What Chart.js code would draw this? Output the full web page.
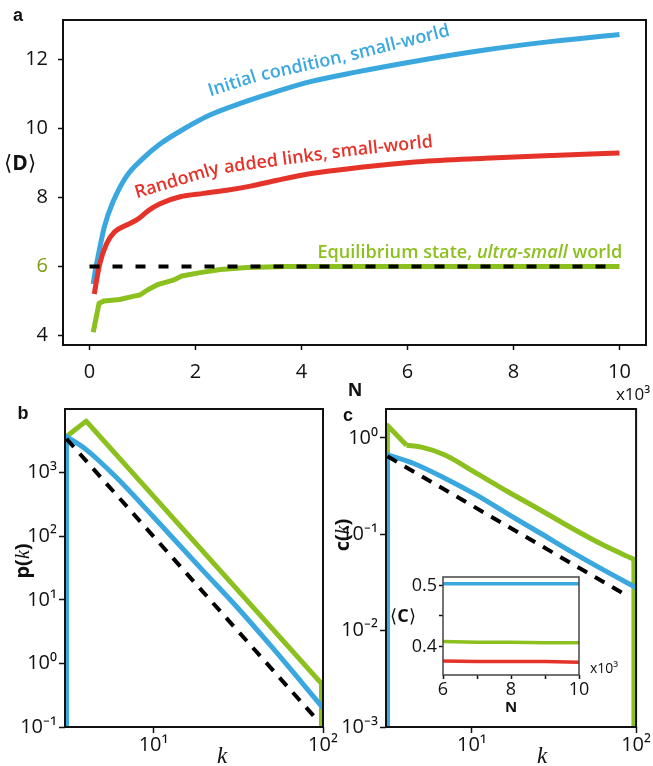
<!DOCTYPE html>
<html>
<head>
<meta charset="utf-8">
<script src="https://cdn.jsdelivr.net/npm/chart.js@4.4.1/dist/chart.umd.min.js"></script>
<style>
body { margin: 0; background: #fff; }
#fig { position: relative; width: 653px; height: 766px; overflow: hidden; font-family: 'Open Sans', sans-serif; color: #111; }
canvas { position: absolute; }
.lbl { position: absolute; white-space: nowrap; line-height: 1; transform: translate(-50%, -50%); }
.rot { transform: translate(-50%, -50%) rotate(-90deg); }
.panel { font-family: 'Liberation Sans', Arial, sans-serif; font-weight: bold; font-size: 18px; }
.kit { font-family: 'Liberation Serif', serif; font-style: italic; font-weight: normal; }
.br { font-family: 'DejaVu Sans', sans-serif; font-weight: 200; }
</style>
</head>
<body>
<div id="fig">
  <canvas id="chartA" width="653" height="380" style="left:0;top:0;width:653px;height:380px"></canvas>
  <canvas id="chartB" width="345" height="376" style="left:0;top:390px;width:345px;height:376px"></canvas>
  <canvas id="chartC" width="323" height="376" style="left:330px;top:390px;width:323px;height:376px"></canvas>
  <canvas id="chartInset" width="200" height="140" style="left:395px;top:560px;width:200px;height:140px"></canvas>

  <div class="lbl panel" style="left:18px;top:15px">a</div>
  <div class="lbl panel" style="left:23px;top:413px">b</div>
  <div class="lbl panel" style="left:348px;top:415px">c</div>

  <div class="lbl" style="left:20px;top:163px;font-size:21px"><span class="br">⟨</span><b>D</b><span class="br">⟩</span></div>
  <div class="lbl" style="left:355px;top:389px;font-size:18px;font-weight:bold">N</div>
  <div class="lbl" style="left:633px;top:393px;font-size:17px">x10³</div>

  <div class="lbl rot" style="left:22px;top:561px;font-size:20px"><b>p(</b><span class="kit">k</span><b>)</b></div>
  <div class="lbl kit" style="left:222px;top:755px;font-size:23px">k</div>

  <div class="lbl rot" style="left:342px;top:535px;font-size:20px"><b>c(</b><span class="kit">k</span><b>)</b></div>
  <div class="lbl kit" style="left:542px;top:755px;font-size:23px">k</div>

  <div class="lbl" style="left:403px;top:615px;font-size:18px"><span class="br">⟨</span><b>C</b><span class="br">⟩</span></div>
  <div class="lbl" style="left:604px;top:668px;font-size:14px">x10³</div>
  <div class="lbl" style="left:511px;top:706px;font-size:15px;font-weight:bold">N</div>
</div>

<script>
// Colours
const BLUE = '#3aa8df';
const RED = '#e5332a';
const GREEN = '#8cc01e';

// ---------------------------------------------------------
// Panel a: <D> versus N (in units of 10^3)
const initN = [0.07, 0.1, 0.16, 0.28, 0.44, 0.7, 1.0, 1.33, 1.77, 2.28, 2.9, 3.54, 4.17, 5.0, 6.2, 7.46, 8.73, 10.0];
const initD = [5.49, 5.8, 6.28, 7.15, 7.86, 8.62, 9.12, 9.55, 9.98, 10.4, 10.76, 11.08, 11.36, 11.63, 11.97, 12.28, 12.53, 12.73];

const randN = [0.09, 0.19, 0.32, 0.47, 0.7, 0.92, 1.11, 1.33, 1.71, 2.15, 2.59, 3.04, 3.54, 4.05, 4.49, 5.12, 6.2, 7.46, 8.73, 10.0];
const randD = [5.2, 6.05, 6.65, 7.0, 7.2, 7.38, 7.62, 7.82, 8.02, 8.12, 8.21, 8.33, 8.5, 8.66, 8.76, 8.88, 9.04, 9.14, 9.22, 9.29];

const equiN = [0.07, 0.18, 0.28, 0.57, 0.82, 0.95, 1.11, 1.3, 1.58, 1.74, 2.09, 2.47, 2.97, 3.7, 10.0];
const equiD = [4.09, 4.93, 5.0, 5.04, 5.13, 5.17, 5.33, 5.48, 5.6, 5.72, 5.82, 5.91, 5.97, 6.0, 6.0];

const refN = [0, 9.83];
const refD = [6, 6];

const nTicks = [0, 2, 4, 6, 8, 10];
const dTicks = [4, 6, 8, 10, 12];

// Panel b: degree distribution p(k)
const pkInitK = [3.06, 4, 6, 10, 20, 30, 50, 100];
const pkInitP = [3700, 2300, 850, 200, 27, 8.5, 1.8, 0.2];
const pkEquiK = [3.06, 4, 98];
const pkEquiP = [3700, 6450, 0.48];
const pkRefK = [3.06, 93];
const pkRefP = [3400, 0.127];
const pkTicks = [0.1, 1, 10, 100, 1000];

// Panel c: clustering spectrum c(k)
const ckInitK = [3.06, 4.35, 6.8, 10.7, 16.7, 26.3, 41, 64.5, 100];
const ckInitC = [0.67, 0.55, 0.385, 0.255, 0.161, 0.102, 0.065, 0.042, 0.028];
const ckEquiK = [3.06, 4, 5, 6.8, 10.7, 16.7, 26.3, 41, 64.5, 97];
const ckEquiC = [1.35, 0.84, 0.80, 0.67, 0.43, 0.275, 0.178, 0.115, 0.076, 0.055];
const ckRefK = [3.06, 84.6];
const ckRefC = [0.645, 0.024];
const ckTicks = [0.001, 0.01, 0.1, 1];
const kTicks = [10, 100];

// Inset: <C> versus N
const insetN = [6, 7, 8, 9, 10];
const insetInit = [0.503, 0.503, 0.503, 0.503, 0.503];
const insetEqui = [0.408, 0.407, 0.407, 0.406, 0.406];
const insetRand = [0.376, 0.375, 0.375, 0.375, 0.374];
const insetYTicks = [0.4, 0.45, 0.5];
const insetXTicks = [6, 7, 8, 9, 10];

// ---------------------------------------------------------
// Helpers
const SUP = { '-': '⁻', '0': '⁰', '1': '¹', '2': '²', '3': '³', '4': '⁴' };
function pow10Label(v) {
    const e = String(Math.round(Math.log10(v)));
    return '10' + e.split('').map(c => SUP[c]).join('');
}

function pts(xs, ys) {
    return xs.map((x, i) => ({ x: x, y: ys[i] }));
}

// vertical drop to (far below) the bottom of a log axis
function drop(x, y) {
    return [{ x: x, y: y }, { x: x, y: 1e-7 }];
}

function line(data, color, width, order, opts) {
    opts = opts || {};
    return {
        data: data,
        borderColor: color,
        borderWidth: width,
        borderDash: opts.dash || [],
        borderJoinStyle: 'round',
        pointRadius: 0,
        tension: opts.smooth ? 0.4 : 0,
        cubicInterpolationMode: opts.smooth ? 'monotone' : 'default',
        fill: false,
        clip: 0,
        order: order
    };
}

function fixTicks(values) {
    return scale => { scale.ticks = values.map(v => ({ value: v })); };
}

function axis(opts) {
    return {
        type: opts.type || 'linear',
        position: opts.position,
        min: opts.min,
        max: opts.max,
        afterBuildTicks: fixTicks(opts.ticks),
        afterFit: scale => {
            if (opts.position === 'left') scale.width = opts.size;
            else scale.height = opts.size;
        },
        grid: {
            display: true,
            drawOnChartArea: false,
            drawTicks: true,
            tickLength: opts.tickLength,
            tickColor: '#111',
            tickWidth: 1.5
        },
        border: { display: false },
        ticks: {
            autoSkip: false,
            maxRotation: 0,
            padding: opts.padding,
            color: opts.color || '#111',
            font: { family: 'Open Sans', size: opts.fontSize, lineHeight: 1 },
            callback: opts.label
        }
    };
}

// frame round the plot area
const boxPlugin = {
    id: 'box',
    afterDraw(chart, args, o) {
        const a = chart.chartArea;
        const ctx = chart.ctx;
        ctx.save();
        ctx.strokeStyle = o.color || '#111';
        ctx.lineWidth = o.width || 2;
        ctx.strokeRect(a.left, a.top, a.right - a.left, a.bottom - a.top);
        ctx.restore();
    }
};

// text laid along a polyline given in pixel coordinates
function textOnPath(ctx, path, parts, targetLen, color) {
    const glyphs = [];
    let total = 0;
    parts.forEach(p => {
        ctx.font = p.font;
        for (const ch of p.text) {
            const w = ctx.measureText(ch).width;
            glyphs.push({ ch: ch, w: w, font: p.font });
            total += w;
        }
    });
    const f = targetLen / total;
    const segs = [];
    let L = 0;
    for (let i = 1; i < path.length; i++) {
        const dx = path[i][0] - path[i - 1][0];
        const dy = path[i][1] - path[i - 1][1];
        const len = Math.hypot(dx, dy);
        segs.push({ x0: path[i - 1][0], y0: path[i - 1][1], dx: dx, dy: dy, len: len, start: L });
        L += len;
    }
    let s = 0;
    ctx.fillStyle = color;
    glyphs.forEach(g => {
        const mid = s + g.w * f / 2;
        const seg = segs.find(sg => mid <= sg.start + sg.len) || segs[segs.length - 1];
        const t = (mid - seg.start) / seg.len;
        ctx.save();
        ctx.translate(seg.x0 + seg.dx * t, seg.y0 + seg.dy * t);
        ctx.rotate(Math.atan2(seg.dy, seg.dx));
        ctx.scale(f, 1);
        ctx.font = g.font;
        ctx.textAlign = 'center';
        ctx.textBaseline = 'alphabetic';
        ctx.fillText(g.ch, 0, 0);
        ctx.restore();
        s += g.w * f;
    });
}

const LABEL_FONT = '600 18px "Open Sans"';
const LABEL_FONT_IT = 'italic 600 18px "Open Sans"';
const curveLabels = [
    { color: BLUE, len: 248,
      path: [[2.28, 10.93], [3.13, 11.35], [4.90, 11.96], [6.87, 12.72]],
      parts: [{ text: 'Initial condition, small-world', font: LABEL_FONT }] },
    { color: RED, len: 302,
      path: [[0.89, 7.98], [2.41, 8.68], [4.88, 9.20], [6.57, 9.48]],
      parts: [{ text: 'Randomly added links, small-world', font: LABEL_FONT }] },
    { color: GREEN, len: 305,
      path: [[4.30, 6.23], [10.09, 6.23]],
      parts: [{ text: 'Equilibrium state, ', font: LABEL_FONT },
              { text: 'ultra-small', font: LABEL_FONT_IT },
              { text: ' world', font: LABEL_FONT }] }
];

const curveLabelPlugin = {
    id: 'curveLabels',
    afterDatasetsDraw(chart) {
        const xs = chart.scales.x, ys = chart.scales.y;
        curveLabels.forEach(lab => {
            const p = lab.path.map(d => [xs.getPixelForValue(d[0]), ys.getPixelForValue(d[1])]);
            textOnPath(chart.ctx, p, lab.parts, lab.len, lab.color);
        });
    }
};

Chart.defaults.animation = false;
Chart.defaults.plugins.legend.display = false;
Chart.defaults.plugins.tooltip.enabled = false;

function createChart(id, datasets, scales, padding, plugins, boxOpts) {
    return new Chart(document.getElementById(id), {
        type: 'line',
        data: { datasets: datasets },
        options: {
            responsive: false,
            layout: { padding: padding, autoPadding: false },
            scales: scales,
            plugins: { box: boxOpts || {} }
        },
        plugins: [boxPlugin].concat(plugins || [])
    });
}

// ---------------------------------------------------------
// Panel a
createChart('chartA', [
    line(pts(refN, refD), '#000', 4, 0, { dash: [10, 13] }),
    line(pts(randN, randD), RED, 5, 1, { smooth: true }),
    line(pts(initN, initD), BLUE, 5, 2, { smooth: true }),
    line(pts(equiN, equiD), GREEN, 5, 3)
], {
    x: axis({ position: 'bottom', min: -0.5, max: 10.5, ticks: nTicks, size: 35, tickLength: 5, padding: 12, fontSize: 20 }),
    y: axis({ position: 'left', min: 3.72, max: 13.15, ticks: dTicks, size: 63, tickLength: 5, padding: 10, fontSize: 20,
              color: c => (c.tick && c.tick.value === 6 ? '#7d9e12' : '#111') })
}, { left: 0, top: 8, right: 7, bottom: 0 }, [curveLabelPlugin]);

// Panel b
createChart('chartB', [
    line(pts(pkRefK, pkRefP), '#000', 4, 0, { dash: [11, 9] }),
    line(pts(pkInitK, pkInitP), BLUE, 5, 1, { smooth: true }),
    line(drop(pkInitK[0], pkInitP[0]), BLUE, 5, 1),
    line(pts(pkEquiK, pkEquiP), GREEN, 5, 2),
    line(drop(pkEquiK[pkEquiK.length - 1], pkEquiP[pkEquiP.length - 1]), GREEN, 5, 2)
], {
    x: axis({ type: 'logarithmic', position: 'bottom', min: 3, max: 100, ticks: kTicks, size: 39, tickLength: 6, padding: 2, fontSize: 20, label: pow10Label }),
    y: axis({ type: 'logarithmic', position: 'left', min: 0.1, max: 10000, ticks: pkTicks, size: 65, tickLength: 6, padding: 2, fontSize: 20, label: pow10Label })
}, { left: 0, top: 19, right: 22, bottom: 0 });

// Panel c: green has a sharp corner at k = 4, then bends smoothly
createChart('chartC', [
    line(pts(ckRefK, ckRefC), '#000', 4, 0, { dash: [11, 9] }),
    line(pts(ckInitK, ckInitC), BLUE, 5, 1, { smooth: true }),
    line(drop(ckInitK[0], ckInitC[0]), BLUE, 5, 1),
    line(pts(ckEquiK.slice(0, 2), ckEquiC.slice(0, 2)), GREEN, 5, 2),
    line(pts(ckEquiK.slice(1), ckEquiC.slice(1)), GREEN, 5, 2, { smooth: true }),
    line(drop(ckEquiK[0], ckEquiC[0]), GREEN, 5, 2),
    line(drop(ckEquiK[ckEquiK.length - 1], ckEquiC[ckEquiC.length - 1]), GREEN, 5, 2)
], {
    x: axis({ type: 'logarithmic', position: 'bottom', min: 3, max: 100, ticks: kTicks, size: 39, tickLength: 6, padding: 2, fontSize: 20, label: pow10Label }),
    y: axis({ type: 'logarithmic', position: 'left', min: 0.001, max: 2, ticks: ckTicks, size: 56, tickLength: 6, padding: 2, fontSize: 20, label: pow10Label })
}, { left: 0, top: 19, right: 7, bottom: 0 });

// Inset
createChart('chartInset', [
    line(pts(insetN, insetInit), BLUE, 3.5, 0),
    line(pts(insetN, insetEqui), GREEN, 3.5, 1),
    line(pts(insetN, insetRand), RED, 3.5, 2)
], {
    x: axis({ position: 'bottom', min: 6, max: 10, ticks: insetXTicks, size: 25, tickLength: 4, padding: 2, fontSize: 18,
              label: v => (v % 2 === 0 ? String(v) : '') }),
    y: axis({ position: 'left', min: 0.353, max: 0.514, ticks: insetYTicks, size: 48, tickLength: 4, padding: 2, fontSize: 18,
              label: v => (Math.abs(v - 0.45) < 1e-6 ? '' : v.toFixed(1)) })
}, { left: 0, top: 17, right: 16, bottom: 0 }, [], { color: '#444', width: 1.5 });
</script>
</body>
</html>
